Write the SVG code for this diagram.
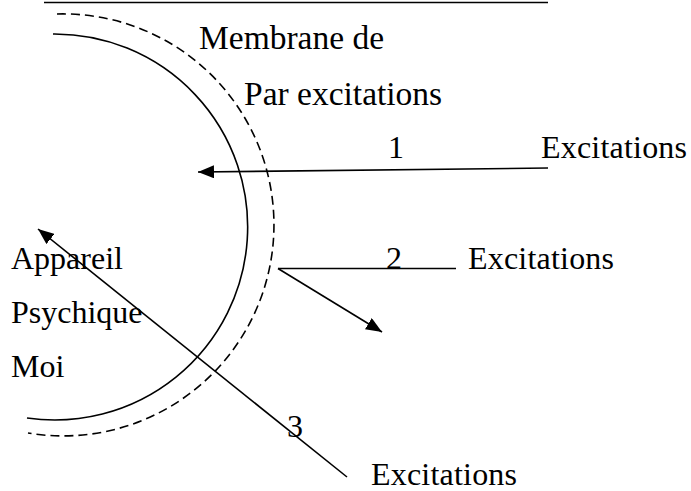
<svg xmlns="http://www.w3.org/2000/svg" width="691" height="491" viewBox="0 0 691 491">
<style>
.t{font-family:"Liberation Serif","Times New Roman",serif;font-size:32px;fill:#000}
.b{font-size:33.5px}
.l{stroke:#000;stroke-width:1.6;fill:none}
.d{stroke:#000;stroke-width:1.6;fill:none;stroke-dasharray:9 5}
</style>
<defs>
<marker id="ah" viewBox="0 0 16 13" refX="16" refY="6.5" markerWidth="16" markerHeight="13" markerUnits="userSpaceOnUse" orient="auto">
<path d="M0,0 L16,6.5 L0,13 Z" fill="#000"/>
</marker>
</defs>
<rect width="691" height="491" fill="#fff"/>
<g id="frame">
<line class="l" x1="44" y1="2.5" x2="548" y2="2.5"/>
</g>
<g id="appareil">
<path class="l" d="M53,34 A193,193 0 1 1 27,418"/>
<text class="t" x="11" y="269">Appareil</text>
<text class="t" x="11" y="323">Psychique</text>
<text class="t" x="11" y="377">Moi</text>
</g>
<g id="membrane">
<path class="d" d="M57,14 A211,211 0 1 1 28,433"/>
<text class="t b" x="199" y="49">Membrane de</text>
<text class="t b" x="244" y="105">Par excitations</text>
</g>
<g id="exc1">
<text class="t" x="541" y="158" textLength="146">Excitations</text>
</g>
<g id="exc2">
<text class="t" x="468" y="269" textLength="146">Excitations</text>
</g>
<g id="exc3">
<text class="t" x="371" y="485" textLength="146">Excitations</text>
</g>
<g id="connectors">
<line class="l" x1="548" y1="168" x2="198" y2="172" marker-end="url(#ah)"/>
<text class="t" x="388" y="158">1</text>
<line class="l" x1="278" y1="268.5" x2="456" y2="268.5"/>
<line class="l" x1="278" y1="268.5" x2="382" y2="332" marker-end="url(#ah)"/>
<text class="t" x="386" y="269">2</text>
<line class="l" x1="347" y1="477" x2="38" y2="229" marker-end="url(#ah)"/>
<text class="t" x="287" y="437">3</text>
</g>
</svg>
